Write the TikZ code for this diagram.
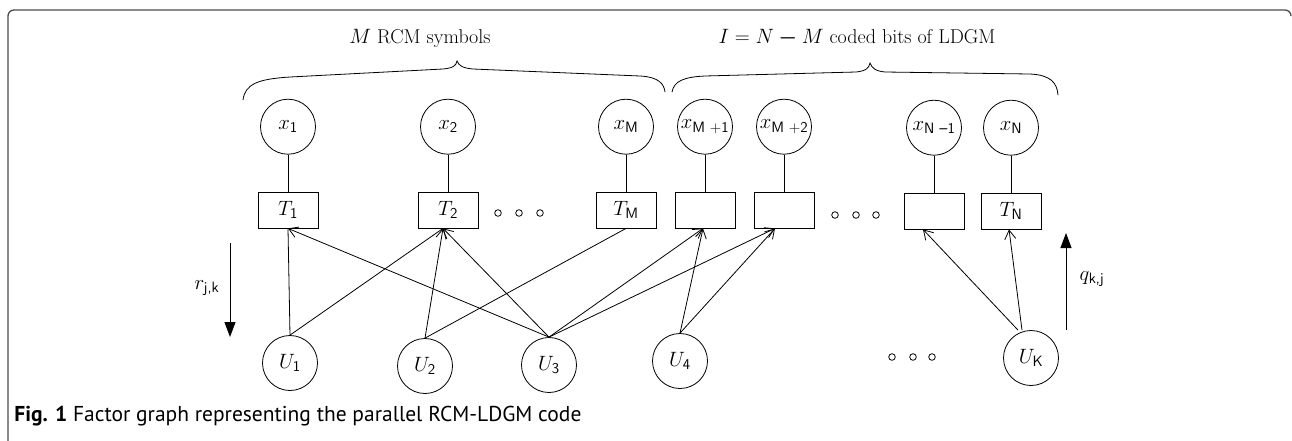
\documentclass[tikz,border=0pt]{standalone}
\usepackage{amsmath}
\usepackage{fontspec}
\newfontfamily\capfont{PT Sans}
\usetikzlibrary{arrows.meta,positioning}

% sans index set a bit larger than a plain script
\newcommand{\sfix}[1]{\mbox{\fontsize{15}{15}\selectfont\sffamily #1}}

\begin{document}
\begin{tikzpicture}[
    x = 1pt, y = -1pt, % pixel units, y grows downwards
    line width = 0.8pt,
    font = \fontsize{20}{23}\selectfont,
    node distance = 37pt, % gap between variable and check node
    var/.style = {draw, circle, minimum size = 55pt, inner sep = 0pt},
    chk/.style = {draw, rectangle, minimum width = 60pt, minimum height = 36pt, inner sep = 0pt},
    msg/.style = {-{Straight Barb[length=9pt,width=11pt]}},
    flow/.style = {-{Triangle[length=15pt,width=11pt]}, line width = 1pt}
    ]

    \useasboundingbox (0,0) rectangle (1292,440);

    % frame
    \draw[gray!60!black, line width = 1.3pt, rounded corners = 6pt]
        (8,441) -- (8,10) -- (1291,10) -- (1291,15);

    % check nodes
    \node[chk] (T1) at (288,210) {$T_{\sfix{1}}$};
    \node[chk] (T2) at (448,210) {$T_{\sfix{2}}$};
    \node[chk] (TM) at (626,210) {$T_{\sfix{M}}$};
    \node[chk] (TM1) at (705,210) {};
    \node[chk] (TM2) at (784,210) {};
    \node[chk] (TN1) at (934,211) {};
    \node[chk] (TN) at (1011,211) {$T_{\sfix{N}}$};

    % coded symbols
    \node[var] (x1) [above=of T1] {$x_{\sfix{1}}$};
    \node[var] (x2) [above=of T2] {$x_{\sfix{2}}$};
    \node[var] (xM) [above=of TM] {$x_{\sfix{M}}$};
    \node[var] (xM1) [above=of TM1] {$x_{\sfix{M +1}}$};
    \node[var] (xM2) [above=of TM2] {$x_{\sfix{M +2}}$};
    \node[var] (xN1) [above=of TN1] {$x_{\sfix{N \textbf{--}1}}$};
    \node[var] (xN) [above=of TN] {$x_{\sfix{N}}$};

    % source bits
    \node[var] (U1) at (290,363) {$U_{\sfix{1}}$};
    \node[var] (U2) at (425,366) {$U_{\sfix{2}}$};
    \node[var] (U3) at (549,365) {$U_{\sfix{3}}$};
    \node[var] (U4) at (680,361) {$U_{\sfix{4}}$};
    \node[var] (UK) at (1031,358) {$U_{\sfix{K}}$};

    % dots
    \foreach \x in {498,519,540} \draw (\x,213) circle[radius=3.3pt];
    \foreach \x in {835,856,876} \draw (\x,215) circle[radius=3.3pt];
    \foreach \x in {892,913,932} \draw (\x,357) circle[radius=3.3pt];

    % symbol to check
    \foreach \n in {1,2,M,M1,M2,N1,N}
        \draw (x\n) -- (T\n);

    % bit to check
    \draw (U1.north) -- (T1.south);
    \draw (U1.north) -- ([xshift=-5pt]T2.south);
    \draw[msg] (U2.north) -- ([xshift=-5pt]T2.south);
    \draw (U2.north) -- (TM.south);
    \draw[msg] (U3.north) -- (T1.south);
    \draw[msg] (U3.north) -- ([xshift=-5pt]T2.south);
    \draw[msg] (U3.north) -- ([xshift=-2pt]TM1.south);
    \draw[msg] (U3.north) -- ([xshift=-9pt]TM2.south);
    \draw[msg] (U4.north) -- ([xshift=-2pt]TM1.south);
    \draw[msg] (U4.north) -- ([xshift=-9pt]TM2.south);
    \draw[msg] ([xshift=-13pt]UK.north) -- ([xshift=-11pt]TN1.south);
    \draw[msg] ([xshift=-9pt]UK.north) -- ([xshift=-2pt]TN.south);

    % braces
    \draw (243,100) .. controls (245,84) and (258,79) .. (290,77)
        -- (443,69) .. controls (453,68) and (456,66) .. (457,61)
        .. controls (459,66) and (463,68) .. (473,69)
        -- (640,76) .. controls (659,77) and (664,84) .. (665,92);
    \draw (672,92) .. controls (674,81) and (684,77) .. (705,76)
        -- (856,72) .. controls (866,71) and (869,68) .. (870,63)
        .. controls (872,68) and (875,71) .. (885,72)
        -- (1030,74) .. controls (1051,75) and (1057,83) .. (1058,95);
    \node (rcm) at (420,38) {$M$ RCM symbols};
    \node (ldgm) at (857,38) {$I = N \boldsymbol{-} M$ coded bits of LDGM};

    % message directions
    \coordinate (rtop) at (230,243);
    \coordinate (rbot) at (230,337);
    \draw[flow] (rtop) -- (rbot);
    \node[anchor=east] (rlbl) at (223,288) {$r_{\sfix{j,k}}$};
    \coordinate (qbot) at (1066,330);
    \coordinate (qtop) at (1066,233);
    \draw[flow] (qbot) -- (qtop);
    \node[anchor=west] (qlbl) at (1076,279) {$q_{\sfix{k,j}}$};

    % caption
    \node[anchor=base west, inner sep=0pt, font=\capfont\fontsize{21.5}{24}\selectfont] (cap) at (14,421)
        {\textbf{Fig. 1} Factor graph representing the parallel RCM-LDGM code};
\end{tikzpicture}
\end{document}
